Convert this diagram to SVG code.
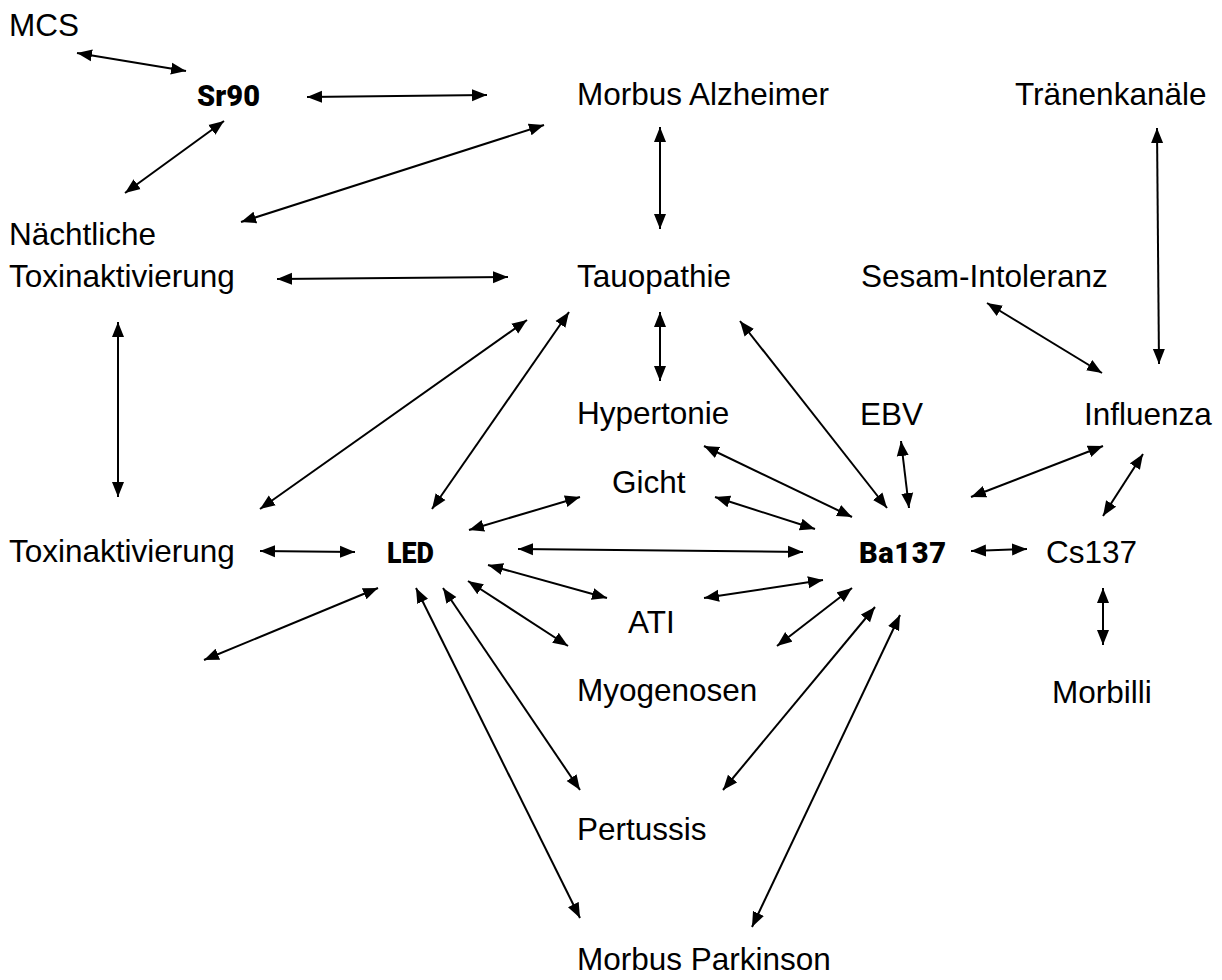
<svg xmlns="http://www.w3.org/2000/svg" width="1222" height="980" viewBox="0 0 1222 980">
<style>
.t{font-family:"Liberation Sans",Arial,sans-serif;font-size:31.5px;fill:#000}
.b{font-family:Roboto,"DejaVu Sans",sans-serif;font-weight:900;font-size:29px;fill:#000}
.c line{stroke:#000;stroke-width:2;marker-start:url(#ah);marker-end:url(#ah)}
</style>
<defs>
<marker id="ah" markerUnits="userSpaceOnUse" markerWidth="16" markerHeight="13" refX="15" refY="6" orient="auto-start-reverse" viewBox="0 0 16 12">
<path d="M0,0 L15,6 L0,12 z" fill="#000"/>
</marker>
</defs>
<rect width="1222" height="980" fill="#fff"/>
<g id="connectors" class="c">
<line x1="77" y1="53" x2="186" y2="71"/>
<line x1="307" y1="97" x2="487" y2="95"/>
<line x1="224" y1="121" x2="125" y2="193"/>
<line x1="544" y1="125" x2="241" y2="222"/>
<line x1="277" y1="279" x2="508" y2="277"/>
<line x1="660" y1="127" x2="660" y2="229"/>
<line x1="1157" y1="128" x2="1159" y2="364"/>
<line x1="118" y1="322" x2="118" y2="497"/>
<line x1="660" y1="312" x2="660" y2="381"/>
<line x1="987" y1="303" x2="1102" y2="373"/>
<line x1="527" y1="320" x2="260" y2="509"/>
<line x1="569" y1="312" x2="432" y2="509"/>
<line x1="740" y1="321" x2="887" y2="508"/>
<line x1="704" y1="446" x2="852" y2="517"/>
<line x1="901" y1="441" x2="909" y2="508"/>
<line x1="1103" y1="446" x2="971" y2="497"/>
<line x1="580" y1="497" x2="469" y2="530"/>
<line x1="715" y1="497" x2="815" y2="529"/>
<line x1="1143" y1="454" x2="1103" y2="516"/>
<line x1="260" y1="551" x2="355" y2="552"/>
<line x1="518" y1="549" x2="803" y2="552"/>
<line x1="971" y1="551" x2="1027" y2="549"/>
<line x1="488" y1="565" x2="607" y2="598"/>
<line x1="704" y1="598" x2="823" y2="580"/>
<line x1="468" y1="581" x2="568" y2="646"/>
<line x1="852" y1="588" x2="777" y2="646"/>
<line x1="378" y1="588" x2="204" y2="660"/>
<line x1="443" y1="588" x2="580" y2="790"/>
<line x1="416" y1="588" x2="580" y2="918"/>
<line x1="875" y1="607" x2="723" y2="790"/>
<line x1="900" y1="615" x2="752" y2="927"/>
<line x1="1103" y1="588" x2="1103" y2="645"/>
</g>
<g id="n-mcs"><text class="t" x="9" y="36">MCS</text></g>
<g id="n-sr90"><text class="b" x="197" y="106" textLength="63" lengthAdjust="spacing">Sr90</text></g>
<g id="n-alzheimer"><text class="t" x="577" y="105">Morbus Alzheimer</text></g>
<g id="n-traenen"><text class="t" x="1015" y="105">Tränenkanäle</text></g>
<g id="n-naechtliche"><text class="t" x="9" y="245">Nächtliche</text><text class="t" x="9" y="287">Toxinaktivierung</text></g>
<g id="n-tauopathie"><text class="t" x="577" y="287">Tauopathie</text></g>
<g id="n-sesam"><text class="t" x="861" y="287">Sesam-Intoleranz</text></g>
<g id="n-hypertonie"><text class="t" x="577" y="424">Hypertonie</text></g>
<g id="n-ebv"><text class="t" x="860" y="425">EBV</text></g>
<g id="n-influenza"><text class="t" x="1084" y="425">Influenza</text></g>
<g id="n-gicht"><text class="t" x="612" y="493">Gicht</text></g>
<g id="n-toxin"><text class="t" x="9" y="562">Toxinaktivierung</text></g>
<g id="n-led"><text class="b" x="387" y="563" textLength="47" lengthAdjust="spacingAndGlyphs">LED</text></g>
<g id="n-ba137"><text class="b" x="859" y="563" textLength="87" lengthAdjust="spacing">Ba137</text></g>
<g id="n-cs137"><text class="t" x="1046" y="563">Cs137</text></g>
<g id="n-ati"><text class="t" x="628" y="633">ATI</text></g>
<g id="n-myogenosen"><text class="t" x="577" y="701">Myogenosen</text></g>
<g id="n-morbilli"><text class="t" x="1052" y="703">Morbilli</text></g>
<g id="n-pertussis"><text class="t" x="577" y="840">Pertussis</text></g>
<g id="n-parkinson"><text class="t" x="577" y="970">Morbus Parkinson</text></g>
</svg>
